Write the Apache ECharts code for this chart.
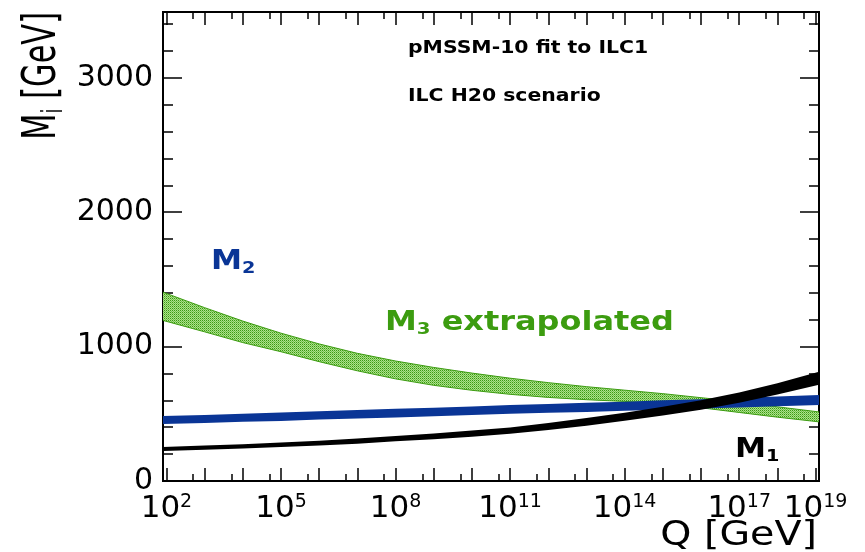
<!DOCTYPE html>
<html>
<head>
<meta charset="utf-8">
<script src="https://cdn.jsdelivr.net/npm/echarts@6/dist/echarts.min.js"></script>
<style>
  html, body { margin: 0; padding: 0; background: #fff; }
  #chart { width: 865px; height: 552px; }
</style>
</head>
<body>
<div id="chart"></div>
<script>
// x = log10(Q / GeV)
const logQ = [1.91, 3, 4, 5, 6, 7, 8, 9, 10, 11, 12, 13, 14, 15, 16, 17, 18, 19.09]

// M1 band (black)
const m1Low = [223, 232, 242, 253, 264, 278, 295, 311, 329, 351, 379, 412, 448, 488, 530, 582, 643, 717]
const m1High = [253, 264, 274, 287, 300, 316, 335, 353, 375, 399, 431, 468, 508, 552, 600, 658, 727, 813]

// M2 band (blue)
const m2Low = [424, 432, 440, 447, 457, 466, 473, 482, 491, 500, 507, 514, 522, 530, 539, 547, 557, 566]
const m2High = [484, 492, 500, 509, 519, 528, 537, 546, 555, 566, 573, 582, 590, 600, 609, 619, 629, 640]

// M3 extrapolated band (green, hatched)
const m3Low = [1195, 1110, 1030, 962, 888, 820, 760, 712, 675, 645, 622, 605, 592, 575, 545, 510, 475, 440]
const m3High = [1405, 1290, 1190, 1100, 1020, 950, 893, 845, 803, 765, 732, 702, 676, 650, 620, 590, 552, 514]

// ticks
const xLabelValues = [2, 5, 8, 11, 14, 17, 19]
const xMajorTicks = [2, 3, 4, 5, 6, 7, 8, 9, 10, 11, 12, 13, 14, 15, 16, 17, 18, 19]
const xMinorTicks = [2.7, 3.7, 4.7, 5.7, 6.7, 7.7, 8.7, 9.7, 10.7, 11.7, 12.7, 13.7, 14.7, 15.7, 16.7, 17.7, 18.7]
const yMajorTicks = [0, 1000, 2000, 3000]
const yMinorTicks = [200, 400, 600, 800, 1200, 1400, 1600, 1800, 2200, 2400, 2600, 2800, 3200, 3400]

const FONT = 'DejaVu Sans'
const BLUE = '#0a3596'
const GREEN = '#3c9c10'

// hatch pattern for the M3 band
const hatch = document.createElement('canvas')
hatch.width = 2
hatch.height = 2
const hctx = hatch.getContext('2d')
hctx.fillStyle = '#ade08c'
hctx.fillRect(0, 0, 2, 2)
hctx.fillStyle = '#3a9a12'
hctx.fillRect(0, 0, 1, 1)
hctx.fillStyle = '#72c24c'
hctx.fillRect(1, 1, 1, 1)

// one polygon per band, built through the axis scales
function band(name, lo, hi, fill, edge) {
  return {
    name: name,
    type: 'custom',
    silent: true,
    clip: true,
    data: logQ.map((x, i) => [x, lo[i], hi[i]]),
    renderItem: (params, api) => {
      if (params.dataIndex !== 0) return null
      const low = logQ.map((x, i) => api.coord([x, lo[i]]))
      const high = logQ.map((x, i) => api.coord([x, hi[i]]))
      const children = [
        { type: 'polygon', shape: { points: low.concat(high.slice().reverse()) }, style: { fill: fill } }
      ]
      if (edge) {
        children.push({ type: 'polyline', shape: { points: low }, style: { stroke: edge, lineWidth: 1, fill: null } })
        children.push({ type: 'polyline', shape: { points: high }, style: { stroke: edge, lineWidth: 1, fill: null } })
      }
      return { type: 'group', children: children }
    },
    encode: { x: 0, y: [1, 2] }
  }
}

function xAxis(position, ticks, len, labels) {
  return {
    type: 'value',
    position: position,
    min: 1.91,
    max: 19.09,
    axisLine: { show: true, onZero: false, lineStyle: { color: '#000', width: 2 } },
    axisTick: { show: true, inside: true, length: len, customValues: ticks, lineStyle: { color: '#000', width: 1.5 } },
    splitLine: { show: false },
    axisLabel: labels
      ? {
          show: true,
          customValues: xLabelValues,
          margin: 12,
          formatter: v => '{b|10}{s|' + Math.round(v) + '}',
          rich: {
            b: { fontFamily: FONT, fontSize: 31, color: '#000', lineHeight: 32 },
            s: { fontFamily: FONT, fontSize: 19, color: '#000', lineHeight: 19, verticalAlign: 'top' }
          }
        }
      : { show: false }
  }
}

function yAxis(position, ticks, len, labels) {
  return {
    type: 'value',
    position: position,
    min: 0,
    max: 3490,
    axisLine: { show: true, onZero: false, lineStyle: { color: '#000', width: 2 } },
    axisTick: { show: true, inside: true, length: len, customValues: ticks, lineStyle: { color: '#000', width: 1.5 } },
    splitLine: { show: false },
    axisLabel: labels
      ? { show: true, customValues: yMajorTicks, margin: 10, fontFamily: FONT, fontSize: 30, color: '#000', formatter: v => String(v) }
      : { show: false }
  }
}

const chart = echarts.init(document.getElementById('chart'), null, { renderer: 'canvas' })

const option = {
  backgroundColor: '#fff',
  animation: false,
  grid: { left: 163, right: 46, top: 12, bottom: 71, containLabel: false, outerBoundsMode: 'none' },
  xAxis: [
    xAxis('bottom', xMajorTicks, 13, true),
    xAxis('bottom', xMinorTicks, 7, false),
    xAxis('top', xMajorTicks, 13, false),
    xAxis('top', xMinorTicks, 7, false)
  ],
  yAxis: [
    yAxis('left', yMajorTicks, 19, true),
    yAxis('left', yMinorTicks, 10, false),
    yAxis('right', yMajorTicks, 19, false),
    yAxis('right', yMinorTicks, 10, false)
  ],
  series: [
    band('M3', m3Low, m3High, { image: hatch, repeat: 'repeat' }, GREEN),
    band('M2', m2Low, m2High, BLUE, null),
    band('M1', m1Low, m1High, '#000', null)
  ],
  graphic: [
    {
      type: 'text', x: 408, y: 49, scaleX: 1.2,
      style: { text: 'pMSSM-10 fit to ILC1', fontFamily: FONT, fontWeight: 'bold', fontSize: 17, fill: '#000', verticalAlign: 'middle' }
    },
    {
      type: 'text', x: 408, y: 97, scaleX: 1.2,
      style: { text: 'ILC H20 scenario', fontFamily: FONT, fontWeight: 'bold', fontSize: 17, fill: '#000', verticalAlign: 'middle' }
    },
    {
      type: 'text', x: 211, y: 262, scaleX: 1.2,
      style: {
        text: '{b|M}{s|2}', verticalAlign: 'middle',
        rich: {
          b: { fontFamily: FONT, fontWeight: 'bold', fontSize: 26, fill: BLUE, lineHeight: 28 },
          s: { fontFamily: FONT, fontWeight: 'bold', fontSize: 16, fill: BLUE, verticalAlign: 'top', padding: [14, 0, 0, 0] }
        }
      }
    },
    {
      type: 'text', x: 385, y: 323, scaleX: 1.23,
      style: {
        text: '{b|M}{s|3}{b| extrapolated}', verticalAlign: 'middle',
        rich: {
          b: { fontFamily: FONT, fontWeight: 'bold', fontSize: 26, fill: GREEN, lineHeight: 28 },
          s: { fontFamily: FONT, fontWeight: 'bold', fontSize: 16, fill: GREEN, verticalAlign: 'top', padding: [14, 0, 0, 0] }
        }
      }
    },
    {
      type: 'text', x: 735, y: 450, scaleX: 1.2,
      style: {
        text: '{b|M}{s|1}', verticalAlign: 'middle',
        rich: {
          b: { fontFamily: FONT, fontWeight: 'bold', fontSize: 26, fill: '#000', lineHeight: 28 },
          s: { fontFamily: FONT, fontWeight: 'bold', fontSize: 16, fill: '#000', verticalAlign: 'top', padding: [14, 0, 0, 0] }
        }
      }
    },
    {
      type: 'text', x: 817, y: 536, scaleX: 1.2,
      style: { text: 'Q [GeV]', fontFamily: FONT, fontSize: 33, fill: '#000', align: 'right', verticalAlign: 'middle' }
    },
    {
      type: 'text', x: 43, y: 12, rotation: Math.PI / 2, scaleX: 0.95, scaleY: 1.45,
      style: {
        text: '{b|M}{s|i}{b| [GeV]}', align: 'right', verticalAlign: 'middle',
        rich: {
          b: { fontFamily: FONT, fontSize: 32, fill: '#000', lineHeight: 34 },
          s: { fontFamily: FONT, fontSize: 19, fill: '#000', verticalAlign: 'top', padding: [17, 0, 0, 0] }
        }
      }
    }
  ]
}

chart.setOption(option)
</script>
</body>
</html>
